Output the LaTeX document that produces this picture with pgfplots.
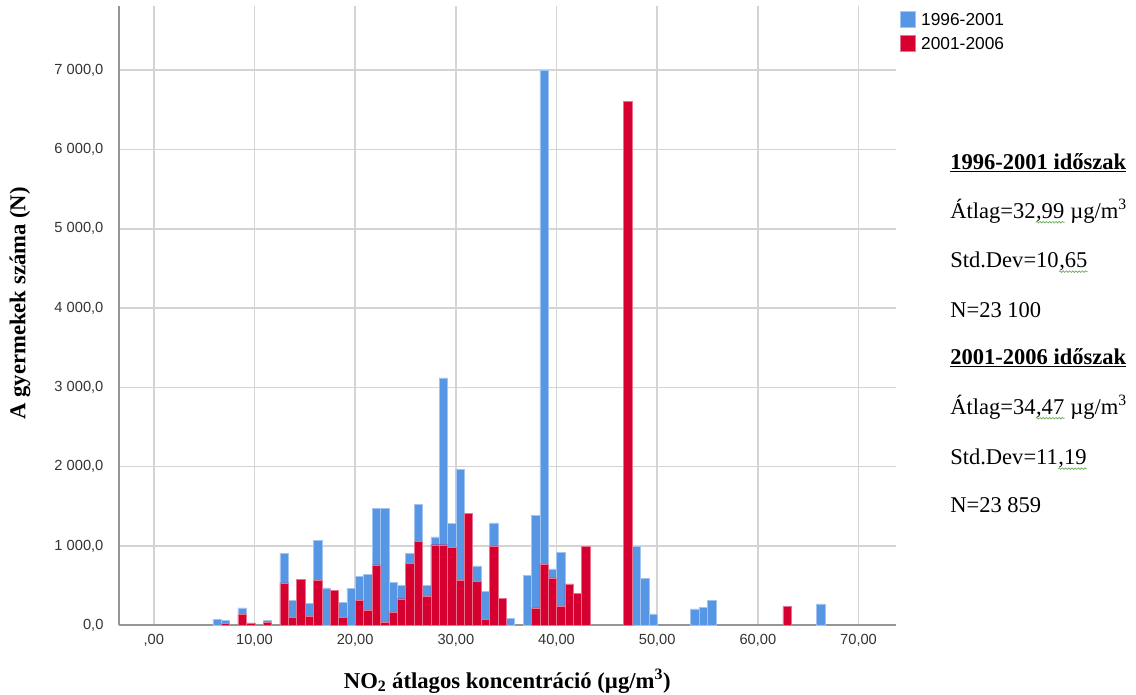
\documentclass[border=0pt]{standalone}
\usepackage{pgfplots}
\pgfplotsset{compat=1.18}
\usetikzlibrary{decorations.pathmorphing}
\usepackage{fontspec}
\setmainfont{Liberation Serif}
\newfontfamily\arial{Liberation Sans}
\definecolor{bl}{RGB}{86,150,228}
\definecolor{rd}{RGB}{214,0,48}
\definecolor{gridc}{RGB}{212,212,212}
\definecolor{axc}{RGB}{150,150,150}
\definecolor{sq}{RGB}{100,170,80}
\begin{document}
\begin{tikzpicture}[x=0.75pt,y=0.75pt]
\useasboundingbox (0,0) rectangle (1136,695);
\begin{axis}[
  at={(118,88)}, anchor=south west,
  scale only axis, width=582.75pt, height=464.25pt,
  xmin=-3.48, xmax=73.7, ymin=0, ymax=7807,
  axis x line*=bottom, axis y line*=left,
  axis line style={draw=axc, line width=1.1pt, -},
  xtick={0,10,20,30,40,50,60,70},
  xticklabels={{,00},{10,00},{20,00},{30,00},{40,00},{50,00},{60,00},{70,00}},
  ytick={0,1000,2000,3000,4000,5000,6000,7000},
  yticklabels={{0,0},{1 000,0},{2 000,0},{3 000,0},{4 000,0},{5 000,0},{6 000,0},{7 000,0}},
  major tick length=0pt,
  xmajorgrids, ymajorgrids,
  grid style={draw=gridc, line width=1.2pt},
  ticklabel style={font=\arial\fontsize{11}{13}\selectfont, text=black!80},
  yticklabel style={xshift=-8pt},
  xticklabel style={yshift=-3pt},
  xlabel={\textbf{NO\textsubscript{2} átlagos koncentráció (µg/m\textsuperscript{3})}},
  ylabel={\textbf{A gyermekek száma (N)}},
  label style={font=\fontsize{17}{20}\selectfont},
  xlabel style={at={(axis description cs:0.5,-0.0905)}, anchor=center},
  ylabel style={at={(axis description cs:-0.127,0.52)}, anchor=center},
  legend style={at={(1,1)}, anchor=north west, xshift=3pt, yshift=-3pt, draw=none, fill=none,
    font=\arial\fontsize{13}{15}\selectfont, row sep=3.5pt, inner sep=0pt, cells={anchor=west}},
  legend image code/.code={\fill[#1] (0pt,-0.5em) rectangle (1.15em,0.7em);},
  clip=false,
]
\addplot[ybar, bar width=0.8327, bar shift=0pt, fill=bl, draw=bl!55!white, line width=0.35pt] coordinates {
(6.28,75) (7.11,65) (8.77,220) (11.27,60) (12.94,910) (13.77,315) (15.44,275) (16.27,1070) (17.10,470) (18.77,290) (19.60,465) (20.43,615) (21.26,638) (22.10,1475) (22.93,1475) (23.76,545) (24.60,505) (25.43,908) (26.26,1520) (27.09,500) (27.93,1115) (28.76,3119) (29.59,1283) (30.42,1963) (32.09,748) (32.92,429) (33.76,1290) (35.42,85) (37.09,630) (37.92,1387) (38.75,7000) (39.58,710) (40.42,921) (47.91,996) (48.75,589) (49.58,143) (53.74,206) (54.57,227) (55.41,311) (66.23,269)
};
\addlegendentry{\hspace{2pt}1996-2001}
\addplot[ybar, bar width=0.8327, bar shift=0pt, fill=rd, draw=rd!55!white, line width=0.35pt] coordinates {
(7.11,25) (8.77,135) (9.61,30) (11.27,40) (12.94,535) (13.77,100) (14.60,575) (15.44,115) (16.27,570) (17.93,443) (18.77,100) (20.43,312) (21.26,188) (22.10,760) (22.93,40) (23.76,169) (24.60,334) (25.43,784) (26.26,1056) (27.09,366) (27.93,1015) (28.76,1015) (29.59,984) (30.42,568) (31.26,1407) (32.09,555) (32.92,72) (33.76,1000) (34.59,336) (37.92,218) (38.75,765) (39.58,597) (40.42,240) (41.25,521) (42.08,400) (42.92,996) (47.08,6609) (62.90,236)
};
\addlegendentry{\hspace{2pt}2001-2006}
\end{axis}
\begin{scope}[every node/.style={inner sep=0pt, font=\fontsize{16.9}{19}\selectfont},
  squig/.style={draw=sq, line width=0.5pt, decorate, decoration={snake, amplitude=0.6pt, segment length=2.4pt}}]
\node[anchor=west] at (950,695-163) {\textbf{\underline{1996-2001 időszak}}};
\node[anchor=west] (a1) at (950,695-211) {Átlag=32};
\node[anchor=base west] (a2) at (a1.base east) {,99};
\node[anchor=base west] at (a2.base east) {\ µg/m\textsuperscript{3}};
\draw[squig] ([yshift=-3pt]a2.base west) -- ([yshift=-3pt]a2.base east);
\node[anchor=west] (b1) at (950,695-260) {Std.Dev=10};
\node[anchor=base west] (b2) at (b1.base east) {,65};
\draw[squig] ([yshift=-3pt]b2.base west) -- ([yshift=-3pt]b2.base east);
\node[anchor=west] at (950,695-310) {N=23 100};
\node[anchor=west] at (950,695-358) {\textbf{\underline{2001-2006 időszak}}};
\node[anchor=west] (c1) at (950,695-407) {Átlag=34};
\node[anchor=base west] (c2) at (c1.base east) {,47};
\node[anchor=base west] at (c2.base east) {\ µg/m\textsuperscript{3}};
\draw[squig] ([yshift=-3pt]c2.base west) -- ([yshift=-3pt]c2.base east);
\node[anchor=west] (d1) at (950,695-457) {Std.Dev=11};
\node[anchor=base west] (d2) at (d1.base east) {,19};
\draw[squig] ([yshift=-3pt]d2.base west) -- ([yshift=-3pt]d2.base east);
\node[anchor=west] at (950,695-505) {N=23 859};
\end{scope}
\end{tikzpicture}
\end{document}
